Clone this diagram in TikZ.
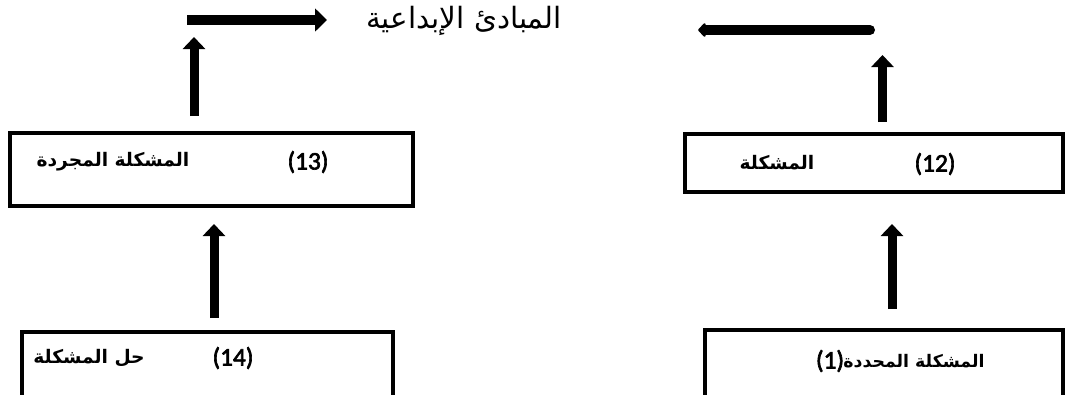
\documentclass[tikz,border=0pt]{standalone}
\usepackage{fontspec}
\setmainfont{Carlito}[AutoFakeBold=2.5]
\newfontfamily\arabicfont[Script=Arabic]{DejaVu Sans}
\TeXXeTstate=1
\usetikzlibrary{arrows.meta}
\begin{document}
\begin{tikzpicture}[x=0.75pt,y=-0.75pt,
  box/.style={draw,line width=3pt,inner sep=0pt},
  lbl/.style={font=\bfseries\fontsize{19}{22}\selectfont,inner sep=0pt},
  ar/.style={font=\arabicfont\bfseries\fontsize{14}{17}\selectfont,inner sep=0pt},
  uparrow/.style={line width=6.75pt,-{Triangle[width=16.5pt,length=9pt]}},
  sidearrow/.style={line width=7pt,-{Triangle[width=17pt,length=9pt]}},
  backarrow/.style={line width=7.5pt,line cap=round,-{Triangle[width=12pt,length=6pt,round]}}]
\clip (0,0) rectangle (1081,394);
\fill[white] (0,0) rectangle (1081,394);
% boxes
\node[box,minimum width=302.25pt,minimum height=54.75pt] (b13) at (211.5,169.5) {};
\node[box,minimum width=283.5pt,minimum height=43.5pt] (b12) at (874,163) {};
\node[box,minimum width=278.25pt,minimum height=66pt] (b14) at (207.5,376) {};
\node[box,minimum width=268.5pt,minimum height=67.5pt] (b1) at (884,375) {};
% labels
\node[lbl] (n13) at (308,162) {(13)};
\node[ar] (t13) at (113,162) {\beginR المشكلة المجردة\endR};
\node[lbl] (n12) at (935,164) {(12)};
\node[ar] (t12) at (777,163) {\beginR المشكلة\endR};
\node[lbl] (n14) at (233,358) {(14)};
\node[ar] (t14) at (89,358) {\beginR حل المشكلة\endR};
\node[lbl] (n1) at (830,361) {(1)};
\node[ar,font=\arabicfont\bfseries\fontsize{13}{16}\selectfont] (t1) at (914,361) {\beginR المشكلة المحددة\endR};
% title
\node[font=\arabicfont\fontsize{22}{26}\selectfont,inner sep=0pt] (title) at (464,21) {\beginR المبادئ الإبداعية\endR};
% connectors
\coordinate (a1s) at (194,116); \coordinate (a1e) at (194,37);
\coordinate (a2s) at (214,318); \coordinate (a2e) at (214,224);
\coordinate (a3s) at (882.5,122); \coordinate (a3e) at (882.5,55);
\coordinate (a4s) at (892,309); \coordinate (a4e) at (892,224);
\coordinate (h1s) at (187,20); \coordinate (h1e) at (327,20);
\coordinate (h2s) at (870,30); \coordinate (h2e) at (698,30);
\draw[uparrow] (a1s) -- (a1e);
\draw[uparrow] (a2s) -- (a2e);
\draw[uparrow] (a3s) -- (a3e);
\draw[uparrow] (a4s) -- (a4e);
\draw[sidearrow] (h1s) -- (h1e);
\draw[backarrow] (h2s) -- (h2e);
\end{tikzpicture}
\end{document}
